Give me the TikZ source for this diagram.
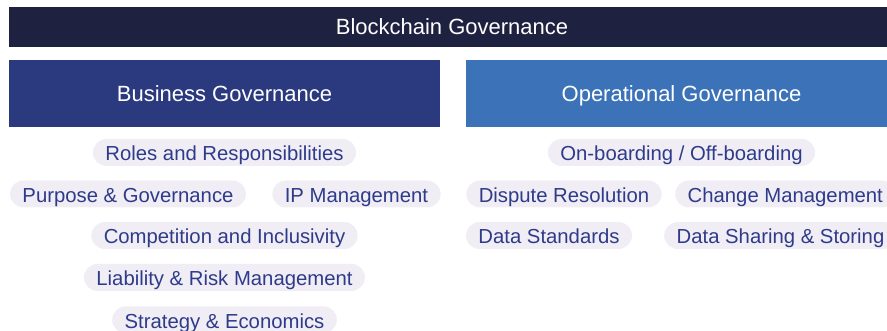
\documentclass[tikz,border=0pt]{standalone}
\usepackage{fontspec}
\setmainfont{Liberation Sans}
\usetikzlibrary{positioning}
\definecolor{chainnavy}{RGB}{30, 34, 64}
\definecolor{bizblue}{RGB}{43, 58, 126}
\definecolor{opsblue}{RGB}{60, 115, 184}
\definecolor{pillgray}{RGB}{240, 238, 244}
\definecolor{pilltext}{RGB}{46, 58, 138}

\begin{document}
\begin{tikzpicture}[x=1pt, y=-1pt,
                headbar/.style={fill=chainnavy, text=white, inner sep=0pt,
                    minimum width=886pt, minimum height=40pt,
                    text height=16pt, text depth=0pt,
                    font=\fontsize{22}{26}\selectfont},
                groupbox/.style={text=white, inner sep=0pt,
                    minimum width=431pt, minimum height=67pt,
                    text height=17pt, text depth=0pt,
                    font=\fontsize{22}{26}\selectfont},
                pill/.style={fill=pillgray, text=pilltext,
                    rounded corners=13.5pt, inner xsep=12.5pt, inner ysep=4.25pt,
                    text height=17.75pt, text depth=0.75pt,
                    font=\fontsize{20.3}{24}\selectfont}
            ]

                \useasboundingbox (0, 0) rectangle (887, 331);

                \node[headbar] (chain) at (452, 27) {Blockchain Governance};

                % business side
                \node[groupbox, fill=bizblue] (biz) at (224.5, 93.5) {Business Governance};

                \node[pill] (roles) at (224.5, 152.5) {Roles and Responsibilities};
                \node[pill] (purpose) at (128, 194) {Purpose \& Governance};
                \node[pill] (ipm) at (356.5, 194) {IP Management};
                \node[pill] (comp) at (224.5, 235.5) {Competition and Inclusivity};
                \node[pill, below=14.5pt of comp] (liab) {Liability \& Risk Management};
                \node[pill, below=15pt of liab] (strat) {Strategy \& Economics};

                % operational side
                \node[groupbox, fill=opsblue] (ops) at (681.5, 93.5) {Operational Governance};

                \node[pill] (onboard) at (681.5, 152.5) {On-boarding / Off-boarding};
                \node[pill] (dispute) at (564, 194) {Dispute Resolution};
                \node[pill, anchor=west] (change) at (675, 194) {Change Management};
                \node[pill] (datastd) at (549, 235.5) {Data Standards};
                \node[pill, anchor=west] (datashare) at (664, 235.5) {Data Sharing \& Storing};

            \end{tikzpicture}
\end{document}
